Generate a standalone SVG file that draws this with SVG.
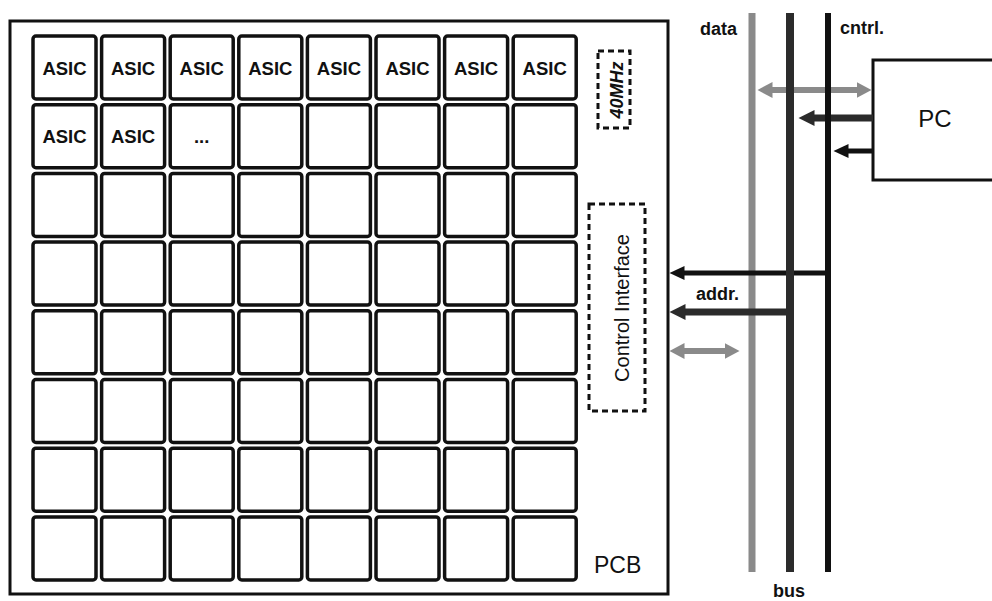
<svg xmlns="http://www.w3.org/2000/svg" width="992" height="601" viewBox="0 0 992 601">
<style>
  .cell{fill:#fff;stroke:#111;stroke-width:3.5}
  .asic{font-family:"Liberation Sans",Arial,sans-serif;font-weight:bold;font-size:18.5px;fill:#111;text-anchor:middle}
  .lbl{font-family:"Liberation Sans",Arial,sans-serif;font-weight:bold;font-size:18px;fill:#111}
  .reg{font-family:"Liberation Sans",Arial,sans-serif;fill:#111}
  .dash{fill:none;stroke:#111;stroke-width:3;stroke-dasharray:6 4}
</style>
<defs>
  <marker id="hBlack" markerUnits="userSpaceOnUse" markerWidth="16" markerHeight="14" refX="0.5" refY="7" orient="auto-start-reverse"><path d="M0,0 L15,7 L0,14 z" fill="#111"/></marker>
  <marker id="hDark" markerUnits="userSpaceOnUse" markerWidth="17" markerHeight="16" refX="0.5" refY="8" orient="auto-start-reverse"><path d="M0,0 L16,8 L0,16 z" fill="#2b2b2b"/></marker>
  <marker id="hGray" markerUnits="userSpaceOnUse" markerWidth="16" markerHeight="16" refX="0.5" refY="8" orient="auto-start-reverse"><path d="M0,0 L15,8 L0,16 z" fill="#8a8a8a"/></marker>
</defs>
<rect width="992" height="601" fill="#fff"/>

<g id="pcb">
  <rect x="10" y="21" width="658" height="573" fill="#fff" stroke="#111" stroke-width="3"/>
  <text class="reg" x="594" y="573" font-size="23">PCB</text>
</g>

<g id="grid">
  <g id="row1">
    <rect class="cell" x="33" y="36" width="63" height="63" rx="3"/>
    <rect class="cell" x="101.6" y="36" width="63" height="63" rx="3"/>
    <rect class="cell" x="170.2" y="36" width="63" height="63" rx="3"/>
    <rect class="cell" x="238.8" y="36" width="63" height="63" rx="3"/>
    <rect class="cell" x="307.4" y="36" width="63" height="63" rx="3"/>
    <rect class="cell" x="376" y="36" width="63" height="63" rx="3"/>
    <rect class="cell" x="444.6" y="36" width="63" height="63" rx="3"/>
    <rect class="cell" x="513.2" y="36" width="63" height="63" rx="3"/>
    <text class="asic" x="64.5" y="74.5">ASIC</text>
    <text class="asic" x="133.1" y="74.5">ASIC</text>
    <text class="asic" x="201.7" y="74.5">ASIC</text>
    <text class="asic" x="270.3" y="74.5">ASIC</text>
    <text class="asic" x="338.9" y="74.5">ASIC</text>
    <text class="asic" x="407.5" y="74.5">ASIC</text>
    <text class="asic" x="476.1" y="74.5">ASIC</text>
    <text class="asic" x="544.7" y="74.5">ASIC</text>
  </g>
  <g id="row2">
    <rect class="cell" x="33" y="104.7" width="63" height="63" rx="3"/>
    <rect class="cell" x="101.6" y="104.7" width="63" height="63" rx="3"/>
    <rect class="cell" x="170.2" y="104.7" width="63" height="63" rx="3"/>
    <rect class="cell" x="238.8" y="104.7" width="63" height="63" rx="3"/>
    <rect class="cell" x="307.4" y="104.7" width="63" height="63" rx="3"/>
    <rect class="cell" x="376" y="104.7" width="63" height="63" rx="3"/>
    <rect class="cell" x="444.6" y="104.7" width="63" height="63" rx="3"/>
    <rect class="cell" x="513.2" y="104.7" width="63" height="63" rx="3"/>
    <text class="asic" x="64.5" y="143">ASIC</text>
    <text class="asic" x="133.1" y="143">ASIC</text>
    <text class="asic" x="201.7" y="143" font-weight="normal" font-size="15">...</text>
  </g>
  <g id="row3">
    <rect class="cell" x="33" y="173.4" width="63" height="63" rx="3"/>
    <rect class="cell" x="101.6" y="173.4" width="63" height="63" rx="3"/>
    <rect class="cell" x="170.2" y="173.4" width="63" height="63" rx="3"/>
    <rect class="cell" x="238.8" y="173.4" width="63" height="63" rx="3"/>
    <rect class="cell" x="307.4" y="173.4" width="63" height="63" rx="3"/>
    <rect class="cell" x="376" y="173.4" width="63" height="63" rx="3"/>
    <rect class="cell" x="444.6" y="173.4" width="63" height="63" rx="3"/>
    <rect class="cell" x="513.2" y="173.4" width="63" height="63" rx="3"/>
  </g>
  <g id="row4">
    <rect class="cell" x="33" y="242.1" width="63" height="63" rx="3"/>
    <rect class="cell" x="101.6" y="242.1" width="63" height="63" rx="3"/>
    <rect class="cell" x="170.2" y="242.1" width="63" height="63" rx="3"/>
    <rect class="cell" x="238.8" y="242.1" width="63" height="63" rx="3"/>
    <rect class="cell" x="307.4" y="242.1" width="63" height="63" rx="3"/>
    <rect class="cell" x="376" y="242.1" width="63" height="63" rx="3"/>
    <rect class="cell" x="444.6" y="242.1" width="63" height="63" rx="3"/>
    <rect class="cell" x="513.2" y="242.1" width="63" height="63" rx="3"/>
  </g>
  <g id="row5">
    <rect class="cell" x="33" y="310.8" width="63" height="63" rx="3"/>
    <rect class="cell" x="101.6" y="310.8" width="63" height="63" rx="3"/>
    <rect class="cell" x="170.2" y="310.8" width="63" height="63" rx="3"/>
    <rect class="cell" x="238.8" y="310.8" width="63" height="63" rx="3"/>
    <rect class="cell" x="307.4" y="310.8" width="63" height="63" rx="3"/>
    <rect class="cell" x="376" y="310.8" width="63" height="63" rx="3"/>
    <rect class="cell" x="444.6" y="310.8" width="63" height="63" rx="3"/>
    <rect class="cell" x="513.2" y="310.8" width="63" height="63" rx="3"/>
  </g>
  <g id="row6">
    <rect class="cell" x="33" y="379.5" width="63" height="63" rx="3"/>
    <rect class="cell" x="101.6" y="379.5" width="63" height="63" rx="3"/>
    <rect class="cell" x="170.2" y="379.5" width="63" height="63" rx="3"/>
    <rect class="cell" x="238.8" y="379.5" width="63" height="63" rx="3"/>
    <rect class="cell" x="307.4" y="379.5" width="63" height="63" rx="3"/>
    <rect class="cell" x="376" y="379.5" width="63" height="63" rx="3"/>
    <rect class="cell" x="444.6" y="379.5" width="63" height="63" rx="3"/>
    <rect class="cell" x="513.2" y="379.5" width="63" height="63" rx="3"/>
  </g>
  <g id="row7">
    <rect class="cell" x="33" y="448.2" width="63" height="63" rx="3"/>
    <rect class="cell" x="101.6" y="448.2" width="63" height="63" rx="3"/>
    <rect class="cell" x="170.2" y="448.2" width="63" height="63" rx="3"/>
    <rect class="cell" x="238.8" y="448.2" width="63" height="63" rx="3"/>
    <rect class="cell" x="307.4" y="448.2" width="63" height="63" rx="3"/>
    <rect class="cell" x="376" y="448.2" width="63" height="63" rx="3"/>
    <rect class="cell" x="444.6" y="448.2" width="63" height="63" rx="3"/>
    <rect class="cell" x="513.2" y="448.2" width="63" height="63" rx="3"/>
  </g>
  <g id="row8">
    <rect class="cell" x="33" y="516.9" width="63" height="63" rx="3"/>
    <rect class="cell" x="101.6" y="516.9" width="63" height="63" rx="3"/>
    <rect class="cell" x="170.2" y="516.9" width="63" height="63" rx="3"/>
    <rect class="cell" x="238.8" y="516.9" width="63" height="63" rx="3"/>
    <rect class="cell" x="307.4" y="516.9" width="63" height="63" rx="3"/>
    <rect class="cell" x="376" y="516.9" width="63" height="63" rx="3"/>
    <rect class="cell" x="444.6" y="516.9" width="63" height="63" rx="3"/>
    <rect class="cell" x="513.2" y="516.9" width="63" height="63" rx="3"/>
  </g>
</g>

<g id="clock">
  <rect class="dash" x="598" y="51" width="32" height="77"/>
  <text class="reg" transform="translate(622.5,90) rotate(-90)" text-anchor="middle" font-size="18" font-weight="bold" font-style="italic">40MHz</text>
</g>

<g id="control-interface">
  <rect class="dash" x="589" y="204" width="56" height="207"/>
  <text class="reg" transform="translate(629,308) rotate(-90)" text-anchor="middle" font-size="20">Control Interface</text>
</g>

<g id="pc">
  <rect x="873" y="60" width="130" height="120" fill="#fff" stroke="#111" stroke-width="3"/>
  <text class="reg" x="935" y="127" font-size="24" text-anchor="middle">PC</text>
</g>

<g id="connectors">
  <line id="bus-data" x1="752" y1="13" x2="752" y2="572" stroke="#8a8a8a" stroke-width="7"/>
  <line x1="772" y1="90" x2="857" y2="90" stroke="#8a8a8a" stroke-width="6" marker-start="url(#hGray)" marker-end="url(#hGray)"/>
  <line x1="873" y1="118" x2="814" y2="118" stroke="#2b2b2b" stroke-width="7" marker-end="url(#hDark)"/>
  <line x1="873" y1="151" x2="848" y2="151" stroke="#111" stroke-width="5" marker-end="url(#hBlack)"/>
  <line x1="828" y1="273" x2="684" y2="273" stroke="#111" stroke-width="5" marker-end="url(#hBlack)"/>
  <line x1="790" y1="312" x2="685" y2="312" stroke="#2b2b2b" stroke-width="7" marker-end="url(#hDark)"/>
  <line x1="684" y1="351" x2="725" y2="351" stroke="#8a8a8a" stroke-width="6" marker-start="url(#hGray)" marker-end="url(#hGray)"/>
  <line id="bus-addr" x1="790" y1="13" x2="790" y2="572" stroke="#2b2b2b" stroke-width="8"/>
  <line id="bus-cntrl" x1="828" y1="13" x2="828" y2="572" stroke="#111" stroke-width="6"/>
</g>

<g id="labels">
  <text class="lbl" x="700" y="35">data</text>
  <text class="lbl" x="840" y="34">cntrl.</text>
  <text class="lbl" x="696" y="300">addr.</text>
  <text class="lbl" x="773" y="597">bus</text>
</g>
</svg>
